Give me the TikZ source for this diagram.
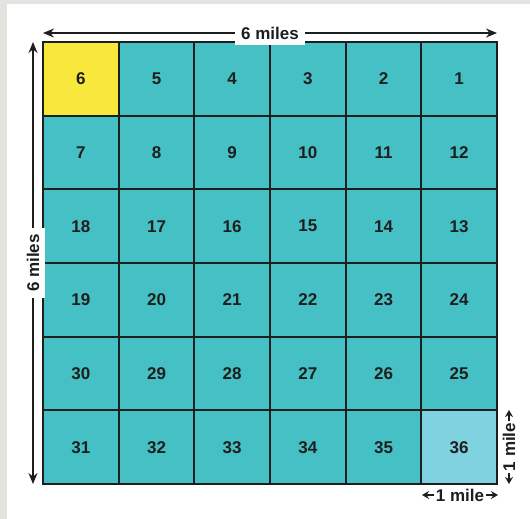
\documentclass[tikz,border=0pt]{standalone}
\usepackage{fontspec}
\setmainfont{Liberation Sans}
\usetikzlibrary{arrows.meta}
\definecolor{bggray}{RGB}{229,227,223}
\definecolor{tealc}{RGB}{69,192,196}
\definecolor{yelc}{RGB}{249,232,60}
\definecolor{lbluec}{RGB}{128,210,224}
\definecolor{inkc}{RGB}{30,30,30}
\begin{document}
\begin{tikzpicture}[x=1pt,y=-1pt,
  cellbox/.style={minimum width=75.67pt, minimum height=73.67pt,
    inner sep=0pt, font=\bfseries\fontsize{17}{17}\selectfont, text=inkc},
  gridline/.style={draw=inkc, line width=1.9pt, line cap=rect},
  dimline/.style={draw=inkc, line width=1.5pt, {Stealth[length=11pt,width=9pt]}-{Stealth[length=11pt,width=9pt]}},
  dimlabel/.style={fill=white, text=inkc, font=\bfseries\fontsize{17}{17}\selectfont, inner sep=6pt},
  smalllabel/.style={text=inkc, font=\bfseries\fontsize{17}{17}\selectfont, inner sep=2pt},
  smallarrow/.style={draw=inkc, line width=1.2pt, -{Stealth[length=7pt,width=8pt]}}]
\fill[bggray] (0,0) rectangle (530,519);
\fill[white] (7,4) rectangle (530,519);
\useasboundingbox (0,0) rectangle (530,519);
\foreach \n [count=\i from 0] in {6,5,4,3,2,1,7,8,9,10,11,12,18,17,16,15,14,13,19,20,21,22,23,24,30,29,28,27,26,25,31,32,33,34,35,36}{
  \pgfmathsetmacro{\cx}{43+75.67*(mod(\i,6)+0.5)}
  \pgfmathsetmacro{\cy}{42+73.67*(int(\i/6)+0.5)}
  \def\cellcol{tealc}
  \ifnum\n=6 \def\cellcol{yelc}\fi
  \ifnum\n=36 \def\cellcol{lbluec}\fi
  \node[cellbox, fill=\cellcol] (c\n) at (\cx,\cy) {\n};
}
% grid lines
\foreach \k in {0,...,6}{
  \pgfmathsetmacro{\gx}{43+75.67*\k}
  \pgfmathsetmacro{\gy}{42+73.67*\k}
  \draw[gridline] (\gx,42) -- (\gx,484);
  \draw[gridline] (43,\gy) -- (497,\gy);
}
% top dimension
\coordinate (tl) at (43,33);
\coordinate (tr) at (497,33);
\draw[dimline] (tl) -- (tr) node[midway, dimlabel] (toplab) {6 miles};
% left dimension
\coordinate (lt) at (33,42);
\coordinate (lb) at (33,484);
\draw[dimline] (lb) -- (lt) node[midway, dimlabel, rotate=90] (leftlab) {6 miles};
% bottom small label
\node[smalllabel] (bl) at (460,495) {1 mile};
\coordinate (blw) at (422,495);
\coordinate (ble) at (498,495);
\draw[smallarrow] (bl.west) -- (blw);
\draw[smallarrow] (bl.east) -- (ble);
% right small label
\node[smalllabel, rotate=90] (rl) at (509,447) {1 mile};
\coordinate (rlt) at (509,410);
\coordinate (rlb) at (509,484);
\draw[smallarrow] (rl.east) -- (rlt);
\draw[smallarrow] (rl.west) -- (rlb);
\end{tikzpicture}
\end{document}
